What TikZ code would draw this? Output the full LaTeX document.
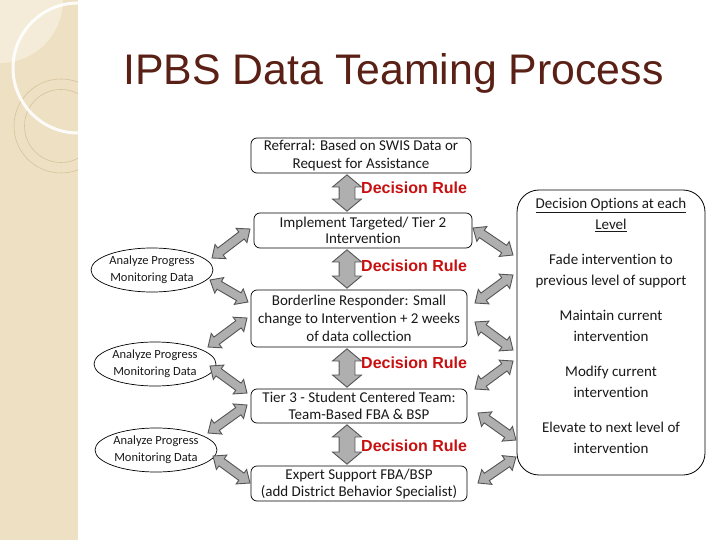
\documentclass[tikz,border=0pt]{standalone}
\usepackage{fontspec}
\newfontfamily\arialf{Liberation Sans}
\newfontfamily\calf[Ligatures=NoCommon]{Carlito}
\usetikzlibrary{shapes.geometric,shapes.arrows,calc}
\definecolor{titlecol}{RGB}{90,32,22}
\definecolor{rulered}{RGB}{200,16,16}
\definecolor{stripbeige}{RGB}{238,224,194}
\definecolor{striplight}{RGB}{244,235,216}
\definecolor{ringcol}{RGB}{214,195,156}
\definecolor{arrfill}{RGB}{175,175,175}
\definecolor{arrline}{RGB}{85,85,85}
\definecolor{txt}{RGB}{25,25,25}
\newcommand\fatarrow[4]{%
  \path let \p1=($#4-#3$), \n1={atan2(\y1,\x1)}, \n2={veclen(\x1,\y1)} in
    node[#1, rotate=\n1, minimum height=\n2] (#2) at ($#3!0.5!#4$) {};
}
\begin{document}
\begin{tikzpicture}[x=1pt,y=-1pt,
  stepbox/.style={draw=black, line width=0.7pt, rounded corners=6pt, fill=white, text=txt,
    font=\calf\fontsize{15}{17.5}\selectfont, align=center, inner sep=0pt},
  analyzeell/.style={ellipse, draw=black, line width=0.7pt, fill=white, text=txt,
    minimum width=122pt, minimum height=44pt, inner sep=0pt,
    font=\calf\fontsize{12.5}{17}\selectfont, align=center},
  rulelabel/.style={anchor=west, text=rulered, font=\arialf\bfseries\fontsize{16}{18}\selectfont, inner sep=0pt},
  diagarrow/.style={double arrow, draw=arrline, fill=arrfill, line width=0.9pt,
    inner xsep=0pt, inner ysep=4pt, double arrow head extend=4.5pt, double arrow tip angle=80},
  vertarrow/.style={double arrow, draw=arrline, fill=arrfill, line width=0.9pt,
    inner xsep=0pt, inner ysep=7.5pt, double arrow head extend=6.5pt, double arrow tip angle=100}
]
\useasboundingbox (0,0) rectangle (720,540);
\fill[white] (0,0) rectangle (720,540);
% decorative strip
\fill[stripbeige] (0,0) rectangle (78,540);
\begin{scope}
  \clip (0,0) rectangle (78,540);
  \fill[striplight] (0,0) circle[radius=63];
  \draw[ringcol, line width=0.6pt] (61,126) circle[radius=47];
  \draw[ringcol, line width=0.6pt] (61,126) circle[radius=36.5];
  \draw[white, line width=3pt, opacity=0.9] (78,68) circle[radius=65];
\end{scope}
% title
\node[font=\arialf\fontsize{42.8}{50}\selectfont, text=titlecol, anchor=base, inner sep=0pt] (title) at (393.5,85) {IPBS Data Teaming Process};
% main boxes
\node[stepbox, minimum width=220pt, minimum height=35pt] (ref) at (361,155.5) {Referral: Based on SWIS Data or\\Request for Assistance};
\node[stepbox, minimum width=218pt, minimum height=35pt, font=\calf\fontsize{15}{16}\selectfont] (impl) at (363,230.5) {Implement Targeted/ Tier 2\\Intervention};
\node[stepbox, minimum width=216pt, minimum height=57pt, font=\calf\fontsize{15}{18}\selectfont] (bord) at (359,318.5) {Borderline Responder: Small\\change to Intervention + 2 weeks\\of data collection};
\node[stepbox, minimum width=216pt, minimum height=34pt, font=\calf\fontsize{15}{17}\selectfont] (tier) at (359,406) {Tier 3 - Student Centered Team:\\Team-Based FBA \& BSP};
\node[stepbox, minimum width=216pt, minimum height=35pt, font=\calf\fontsize{15}{17}\selectfont] (exp) at (359,483.5) {Expert Support FBA/BSP\\(add District Behavior Specialist)};
% decision rule labels
\node[rulelabel] (dr1) at (361,188) {Decision Rule};
\node[rulelabel] (dr2) at (361,265.5) {Decision Rule};
\node[rulelabel] (dr3) at (361,363) {Decision Rule};
\node[rulelabel] (dr4) at (361,446) {Decision Rule};
% ellipses
\node[analyzeell] (e1) at (152,270) {Analyze Progress\\Monitoring Data};
\node[analyzeell] (e2) at (155,364) {Analyze Progress\\Monitoring Data};
\node[analyzeell] (e3) at (156,450) {Analyze Progress\\Monitoring Data};
% options box
\node[draw=black, line width=0.8pt, rounded corners=22pt, fill=white, minimum width=188pt, minimum height=285pt, inner sep=0pt] (opts) at (611,332.5) {};
\node[font=\calf\fontsize{15}{21}\selectfont, align=center, text=txt, inner sep=0pt] (optstext) at (611,326)
 {\underline{Decision Options at each}\\\underline{Level}\\[14pt]Fade intervention to\\previous level of support\\[14pt]Maintain current\\intervention\\[14pt]Modify current\\intervention\\[14pt]Elevate to next level of\\intervention};
% vertical arrows
\coordinate (vx) at (347,0);
\path (ref.south -| vx) ++(0,1.5) coordinate (v1s);
\path (impl.north -| vx) ++(0,-1.5) coordinate (v1e);
\path (impl.south -| vx) ++(0,1.5) coordinate (v2s);
\path (bord.north -| vx) ++(0,-1.5) coordinate (v2e);
\path (bord.south -| vx) ++(0,1.5) coordinate (v3s);
\path (tier.north -| vx) ++(0,-1.5) coordinate (v3e);
\path (tier.south -| vx) ++(0,1.5) coordinate (v4s);
\path (exp.north -| vx) ++(0,-1.5) coordinate (v4e);
\fatarrow{vertarrow}{va1}{(v1s)}{(v1e)}
\fatarrow{vertarrow}{va2}{(v2s)}{(v2e)}
\fatarrow{vertarrow}{va3}{(v3s)}{(v3e)}
\fatarrow{vertarrow}{va4}{(v4s)}{(v4e)}
% left diagonal arrows
\coordinate (a1s) at (212,258); \coordinate (a1e) at (250,229);
\coordinate (a2s) at (210,280); \coordinate (a2e) at (248,302);
\coordinate (a3s) at (247,318); \coordinate (a3e) at (208,347);
\coordinate (a4s) at (210,366); \coordinate (a4e) at (247,393);
\coordinate (a5s) at (247,405); \coordinate (a5e) at (208,433);
\coordinate (a6s) at (213,456); \coordinate (a6e) at (250,483);
\fatarrow{diagarrow}{la1}{(a1s)}{(a1e)}
\fatarrow{diagarrow}{la2}{(a2s)}{(a2e)}
\fatarrow{diagarrow}{la3}{(a3s)}{(a3e)}
\fatarrow{diagarrow}{la4}{(a4s)}{(a4e)}
\fatarrow{diagarrow}{la5}{(a5s)}{(a5e)}
\fatarrow{diagarrow}{la6}{(a6s)}{(a6e)}
% right diagonal arrows
\coordinate (b1s) at (473,228); \coordinate (b1e) at (513,255);
\coordinate (b2s) at (513,275); \coordinate (b2e) at (475,303);
\coordinate (b3s) at (475,322); \coordinate (b3e) at (513,350);
\coordinate (b4s) at (513,361); \coordinate (b4e) at (475,389);
\coordinate (b5s) at (478,413); \coordinate (b5e) at (516,440);
\coordinate (b6s) at (516,457); \coordinate (b6e) at (478,483);
\fatarrow{diagarrow}{ra1}{(b1s)}{(b1e)}
\fatarrow{diagarrow}{ra2}{(b2s)}{(b2e)}
\fatarrow{diagarrow}{ra3}{(b3s)}{(b3e)}
\fatarrow{diagarrow}{ra4}{(b4s)}{(b4e)}
\fatarrow{diagarrow}{ra5}{(b5s)}{(b5e)}
\fatarrow{diagarrow}{ra6}{(b6s)}{(b6e)}
\end{tikzpicture}
\end{document}
